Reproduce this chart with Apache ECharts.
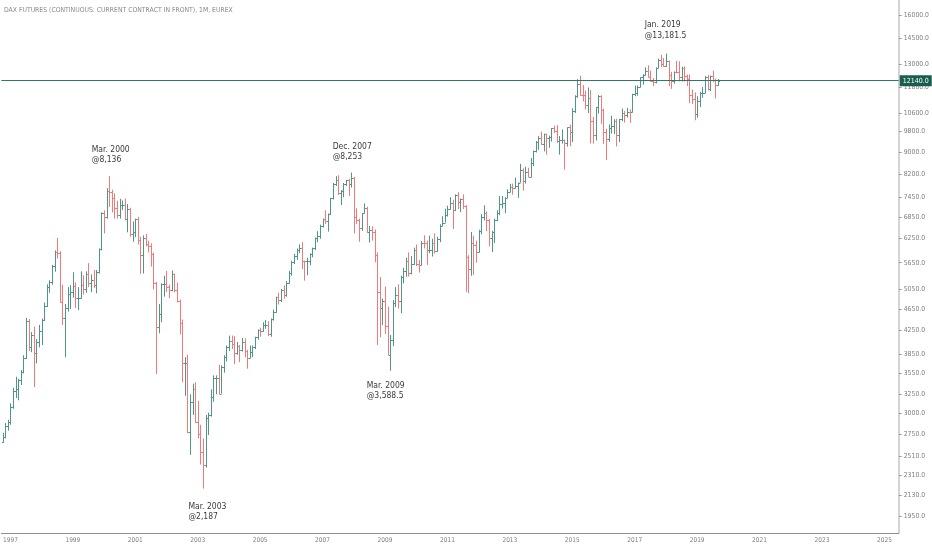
<!DOCTYPE html>
<html><head><meta charset="utf-8">
<script src="https://cdn.jsdelivr.net/npm/echarts@6/dist/echarts.min.js"></script>
<style>html,body{margin:0;padding:0;background:#fff}#c{width:932px;height:550px}</style>
</head><body><div id="c"></div>
<script>
// Axis domain: first month shown and number of monthly slots on the time axis
const firstYear = 1996, firstMonth = 10, axisMonths = 345;

// Monthly OHLC, Oct 1996 .. Sep 2019
const opens = [
 2660,2720,2850,
 2890,3080,3300,3320,3450,3570,3790,4420,3960,4170,3860,4050,
 4250,4440,4710,5100,5200,5570,5900,5880,4800,4470,4670,4960,
 5000,5130,4880,4880,5140,5070,5380,5180,5260,5150,5430,5980,
 6960,6840,7640,7600,7410,7110,6900,7190,7190,6800,7080,6370,
 6430,6800,6210,5830,6260,6120,6060,5860,5190,4310,4560,5160,
 5160,5110,5040,5400,5040,4820,4380,3700,3710,2770,3150,3320,
 2890,2750,2550,2420,2940,2980,3220,3480,3480,3260,3650,3810,
 3965,4060,4020,3860,3990,3920,4050,3900,3790,3890,3960,4130,
 4256,4250,4350,4350,4180,4460,4590,4890,4830,5040,4930,5190,
 5410,5670,5800,5970,6010,5690,5680,5680,5860,6000,6270,6310,
 6600,6790,6720,6920,7410,7880,8010,7580,7640,7860,7990,7870,
 8070,6850,6750,6530,6950,7100,6420,6480,6420,5830,4990,4670,
 4810,4340,3840,4080,4770,4940,4810,5330,5460,5680,5410,5630,
 5960,5610,5600,6150,6140,5960,5970,6150,5930,6230,6600,6690,
 6910,7080,7270,7040,7510,7290,7380,7160,5780,5500,6140,6090,
 5900,6460,6860,6950,6760,6260,6420,6770,6970,7220,7260,7410,
 7610,7780,7740,7800,7910,8350,7960,8280,8100,8590,9030,9400,
 9550,9310,9690,9560,9600,9940,9830,9410,9470,9470,9330,9980,
 9805,10690,11400,11970,11450,11410,10940,11310,10260,9660,10850,11380,
 10740,9800,9500,9960,10040,10260,9680,10340,10590,10510,10660,10640,
 11480,11535,11830,12310,12440,12620,12325,12120,12055,12830,13230,13020,
 12920,13190,12435,12100,12610,12600,12310,12805,12365,12250,11450,11260,
 10560,11170,11515,11525,12345,11730,12400,12190,11940
];
const highs = [
 2765,2880,2920,
 3130,3340,3500,3470,3600,3830,4480,4460,4220,4320,4100,4350,
 4470,4780,5160,5250,5600,5950,6270,5930,5150,4750,5100,5140,
 5430,5200,5100,5450,5360,5450,5640,5380,5480,5480,6000,6980,
 7040,7730,8136,7680,7560,7330,7390,7340,7400,7230,7120,6720,
 6800,6850,6300,6340,6380,6200,6130,5900,5210,4750,5180,5350,
 5460,5150,5470,5400,5200,4840,4450,3800,3840,3250,3400,3420,
 3160,2860,2700,2980,3010,3320,3520,3520,3680,3670,3830,3990,
 4160,4160,4150,4050,4000,4120,4110,3920,3990,3990,4140,4270,
 4300,4400,4440,4420,4470,4640,4900,4980,5060,5140,5230,5460,
 5700,5860,6000,6100,6160,5700,5770,5880,6020,6280,6450,6630,
 6800,7040,6950,7420,7900,8130,8160,7670,7900,8000,8040,8253,
 8100,7100,6800,6960,7250,7150,6590,6580,6500,5900,5320,4860,
 5110,4700,4170,4830,5100,5160,5350,5530,5770,5900,5810,6020,
 6100,5720,6190,6340,6200,6330,6250,6390,6300,6640,6870,7090,
 7180,7440,7360,7530,7600,7400,7530,7200,5830,6430,6330,6200,
 6490,6930,7190,7010,6790,6460,6800,7040,7480,7480,7440,7690,
 7870,7880,8080,7920,8560,8400,8460,8420,8770,9050,9420,9620,
 9800,9720,9720,9640,9950,10050,10070,9620,9890,9480,9980,10090,
 10810,11420,12220,12390,11920,11650,11800,11670,10420,10860,11430,11420,
 10800,9920,10100,10480,10330,10350,10340,10800,10690,10830,10760,11490,
 11890,11900,12310,12480,12840,12950,12670,12270,12840,13320,13530,13350,
 13600,13200,12600,12620,13200,13170,12880,12890,12460,12460,11700,11560,
 11370,11580,11820,12370,12440,12400,12660,12250,12230
];
const lows = [
 2650,2700,2790,
 2860,3060,3200,3170,3380,3550,3770,3900,3880,3350,3700,3960,
 4000,4420,4690,4980,5150,5440,5750,4780,4350,3800,4600,4650,
 4880,4670,4630,4860,4940,4980,5100,4990,5080,4970,5400,5950,
 6390,6800,7140,6980,6800,6800,6800,7050,6750,6420,6300,6170,
 6290,6100,5390,5400,6050,5900,5560,5050,3540,4200,4400,4900,
 5000,4870,5010,4990,4780,4180,3420,3230,2760,2520,2980,2880,
 2700,2420,2187,2390,2740,2960,3150,3250,3250,3260,3560,3730,
 3900,3930,3690,3840,3720,3890,3800,3620,3780,3800,3930,4090,
 4140,4230,4280,4150,4140,4430,4580,4740,4790,4860,4900,5170,
 5350,5620,5720,5880,5500,5240,5360,5590,5780,5960,6160,6250,
 6550,6650,6440,6900,7370,7800,7510,7200,7440,7800,7480,7750,
 6390,6650,6170,6460,6950,6400,6150,6200,5660,4000,4130,4350,
 4190,3830,3588,3980,4690,4660,4570,5180,5330,5330,5380,5600,
 5570,5420,5590,6000,5600,5880,5800,5870,5920,6160,6590,6690,
 6860,7070,6510,7020,7080,6990,7080,5000,4970,5350,5370,5650,
 5900,6370,6750,6450,6050,5910,6140,6730,6900,7100,6960,7410,
 7610,7520,7720,7420,7910,7650,7880,8100,8090,8480,8980,9080,
 9280,9020,8900,9160,9400,9750,9350,8900,9320,8350,9200,9220,
 9380,10600,11300,11410,11130,10760,10600,9330,9320,9440,10570,10130,
 9310,8700,9390,9720,9700,9210,9380,10250,10180,10400,10170,10620,
 11370,11400,11800,11940,12410,12320,12090,11870,12000,12800,12860,12870,
 12870,11870,11730,11990,12520,12100,12100,12100,11870,11050,11010,10280,
 10390,10870,11300,11520,11650,11620,12060,11270,11880
];
const closes = [
 2720,2850,2890,
 3080,3300,3320,3450,3570,3790,4420,3960,4170,3860,4050,4250,
 4440,4710,5100,5200,5570,5900,5880,4800,4470,4670,4960,5000,
 5130,4880,4880,5140,5070,5380,5180,5260,5150,5430,5980,6960,
 6840,7640,7600,7410,7110,6900,7190,7190,6800,7080,6370,6430,
 6800,6210,5830,6260,6120,6060,5860,5190,4310,4560,5160,5160,
 5110,5040,5400,5040,4820,4380,3700,3710,2770,3150,3320,2890,
 2750,2550,2420,2940,2980,3220,3480,3480,3260,3650,3810,3965,
 4060,4020,3860,3990,3920,4050,3900,3790,3890,3960,4130,4256,
 4250,4350,4350,4180,4460,4590,4890,4830,5040,4930,5190,5410,
 5670,5800,5970,6010,5690,5680,5680,5860,6000,6270,6310,6600,
 6790,6720,6920,7410,7880,8010,7580,7640,7860,7990,7870,8070,
 6850,6750,6530,6950,7100,6420,6480,6420,5830,4990,4670,4810,
 4340,3840,4080,4770,4940,4810,5330,5460,5680,5410,5630,5960,
 5610,5600,6150,6140,5960,5970,6150,5930,6230,6600,6690,6910,
 7080,7270,7040,7510,7290,7380,7160,5780,5500,6140,6090,5900,
 6460,6860,6950,6760,6260,6420,6770,6970,7220,7260,7410,7610,
 7780,7740,7800,7910,8350,7960,8280,8100,8590,9030,9400,9550,
 9310,9690,9560,9600,9940,9830,9410,9470,9470,9330,9980,9805,
 10690,11400,11970,11450,11410,10940,11310,10260,9660,10850,11380,10740,
 9800,9500,9960,10040,10260,9680,10340,10590,10510,10660,10640,11480,
 11535,11830,12310,12440,12620,12325,12120,12055,12830,13230,13020,12920,
 13190,12435,12100,12610,12600,12310,12805,12365,12250,11450,11260,10560,
 11170,11515,11525,12345,11730,12400,12190,11940,12140
];

// Price-scale tick labels (right axis)
const priceTicks = [1950,2130,2310,2510,2750,3000,3250,3550,3850,4250,4650,5050,5650,6250,6850,7450,8200,9000,9800,10600,11800,13000,14500,16000];
const lastPrice = 12140;

// Annotations
const annDates  = ['2000-03','2007-12','2009-03','2003-03','2019-01'];
const annPrices = [8136, 8253, 3588.5, 2187, 13181.5];
const annLabels = ['Mar. 2000\n@8,136','Dec. 2007\n@8,253','Mar. 2009\n@3,588.5','Mar. 2003\n@2,187','Jan. 2019\n@13,181.5'];
const annOffsets = [[-17,-31],[-18,-31],[-23,10],[-14,13],[-52,-41]];

const titleText = 'DAX FUTURES (CONTINUOUS: CURRENT CONTRACT IN FRONT), 1M, EUREX';

const UP = '#4f9688', DOWN = '#f07a7a';
const NARROW = '"Liberation Sans Narrow","DejaVu Sans Condensed","Roboto Condensed",Roboto,sans-serif';

const categories = [];
for (let k = 0; k < axisMonths; k++) {
  const m = firstMonth - 1 + k;
  categories.push((firstYear + Math.floor(m / 12)) + '-' + String(m % 12 + 1).padStart(2, '0'));
}
const bars = opens.map((o, i) => [i, o, highs[i], lows[i], closes[i]]);
const isYearTick = (idx, val) => val.slice(5) === '01' && (+val.slice(0, 4)) % 2 === 1;

function renderBar(params, api) {
  const i = api.value(0), o = api.value(1), h = api.value(2), l = api.value(3), c = api.value(4);
  const pH = api.coord([i, h]), pL = api.coord([i, l]), pO = api.coord([i, o]), pC = api.coord([i, c]);
  const bw = api.coord([i + 1, c])[0] - pC[0];
  const x = Math.round(pC[0]) + 0.5;
  const t = Math.max(1, Math.round(bw * 0.45));
  const color = c >= o ? UP : DOWN;
  const st = { stroke: color, lineWidth: 1 };
  const yo = Math.round(pO[1]) + 0.5, yc = Math.round(pC[1]) + 0.5;
  return { type: 'group', children: [
    { type: 'line', shape: { x1: x, y1: pH[1], x2: x, y2: pL[1] }, style: st },
    { type: 'line', shape: { x1: x - t - 0.5, y1: yo, x2: x, y2: yo }, style: st },
    { type: 'line', shape: { x1: x, y1: yc, x2: x + t + 0.5, y2: yc }, style: st }
  ]};
}

const chart = echarts.init(document.getElementById('c'), null, { renderer: 'canvas' });
chart.setOption({
  animation: false,
  backgroundColor: '#ffffff',
  title: { text: titleText, left: 4, top: 7, padding: 0, textStyle: { fontSize: 6.8, fontWeight: 'normal', color: '#85888f', fontFamily: NARROW } },
  grid: { left: 0, right: 32, top: 0, bottom: 17 },
  xAxis: {
    type: 'category', data: categories, boundaryGap: true,
    axisLine: { lineStyle: { color: '#8d9097', width: 1 } },
    axisTick: { interval: isYearTick, alignWithLabel: true, length: 3, lineStyle: { color: '#8d9097' } },
    axisLabel: { interval: isYearTick, formatter: v => v.slice(0, 4), fontSize: 6.5, color: '#7b7e87', margin: 4, fontFamily: NARROW },
    splitLine: { show: false }
  },
  yAxis: {
    type: 'log', position: 'right', min: 1815, max: 17040,
    axisLine: { show: true, lineStyle: { color: '#c4c6cc', width: 1.5 } },
    axisTick: { show: true, length: 3, customValues: priceTicks, lineStyle: { color: '#9a9da5' } },
    axisLabel: { customValues: priceTicks, formatter: v => Number(v).toFixed(1), fontSize: 6.8, color: '#7b7e87', margin: 5, fontFamily: NARROW },
    splitLine: { show: false }
  },
  series: [
    { type: 'custom', renderItem: renderBar, data: bars, encode: { x: 0, y: [1, 2, 3, 4] }, clip: true, silent: true },
    {
      type: 'scatter', silent: true, symbolSize: 1, itemStyle: { color: 'rgba(0,0,0,0)' },
      data: annDates.map((d, k) => ({
        value: [d, annPrices[k]],
        label: { show: true, formatter: annLabels[k], position: annOffsets[k], align: 'left', verticalAlign: 'top',
                 fontSize: 8.5, lineHeight: 10.5, color: '#000000', fontFamily: NARROW }
      })),
      markLine: {
        silent: true, symbol: ['none', 'none'],
        lineStyle: { color: '#2e7a6a', width: 1, type: 'solid' },
        label: { show: true, position: 'end', formatter: lastPrice.toFixed(1), backgroundColor: '#175e4e', color: '#ffffff',
                 fontSize: 7, padding: [2, 3, 2, 3], distance: 1, fontFamily: NARROW },
        data: [{ yAxis: lastPrice }]
      }
    }
  ]
});
</script>
</body></html>
